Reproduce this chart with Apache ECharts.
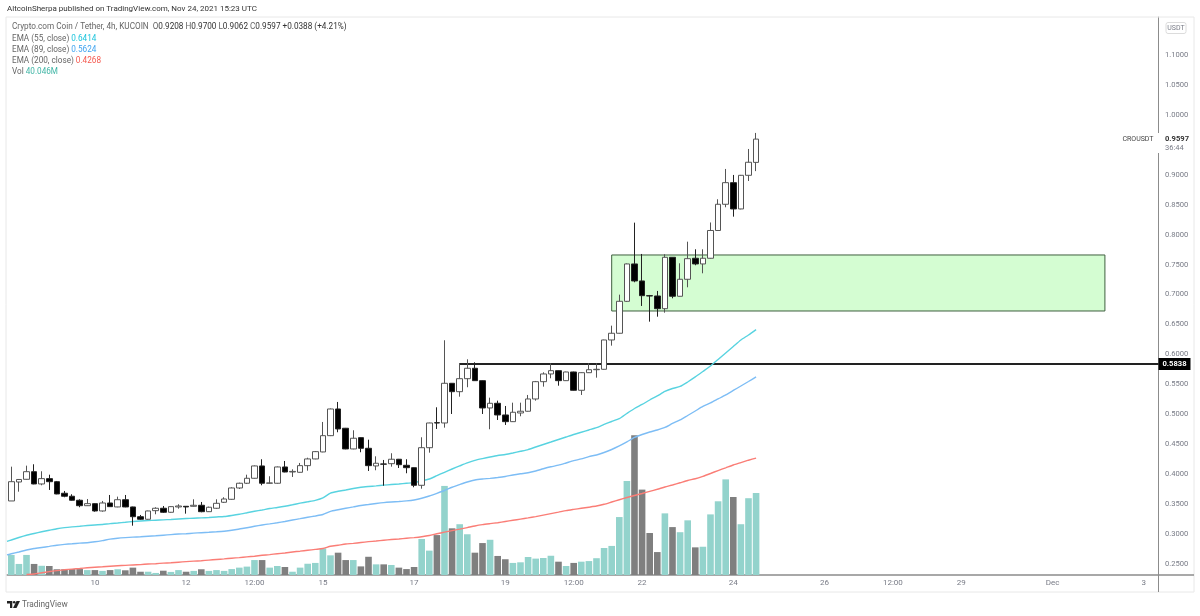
<!DOCTYPE html>
<html><head><meta charset="utf-8">
<style>html,body{margin:0;padding:0;background:#fff}#c{width:1200px;height:616px}</style>
<script src="https://cdn.jsdelivr.net/npm/echarts@6/dist/echarts.min.js"></script>
</head><body><div id="c"></div>
<script>
const opens=[.3551,.3868,.3913,.4040,.3835,.3924,.3873,.3680,.3630,.3563,.3472,.3506,.3384,.3517,.3451,.3572,.3451,.3288,.3245,.3389,.3429,.3362,.3451,.3462,.3462,.3479,.3372,.3429,.3529,.3579,.3768,.3847,.3930,.4136,.3847,.3847,.4119,.4035,.4030,.4141,.4253,.4370,.4642,.5088,.4766,.4420,.4609,.4431,.4136,.4169,.4174,.4248,.4147,.4107,.3813,.4441,.4859,.4854,.5517,.5377,.5594,.5768,.5561,.5105,.5183,.4988,.4876,.5021,.5050,.5255,.5544,.5673,.5728,.5561,.5706,.5400,.5694,.5744,.5751,.6241,.6353,.6887,.7511,.7227,.6981,.6976,.6764,.7622,.6971,.7255,.7606,.7511,.7606,.8070,.8508,.8869,.8430,.8992,.9208];
const closes=[.3873,.3910,.4040,.3835,.3924,.3873,.3668,.3630,.3563,.3472,.3506,.3384,.3517,.3456,.3572,.3451,.3288,.3245,.3384,.3429,.3362,.3456,.3467,.3451,.3479,.3372,.3446,.3512,.3584,.3768,.3847,.3930,.4136,.3847,.3852,.4119,.4035,.4045,.4141,.4253,.4375,.4642,.5088,.4754,.4420,.4599,.4431,.4141,.4181,.4166,.4248,.4157,.4107,.3813,.4441,.4854,.4854,.5517,.5377,.5594,.5768,.5561,.5105,.5183,.4988,.4876,.5033,.5050,.5255,.5544,.5673,.5728,.5561,.5706,.5400,.5694,.5744,.5751,.6241,.6353,.6887,.7511,.7227,.6981,.6976,.6764,.7622,.6971,.7255,.7599,.7511,.7606,.8070,.8508,.8869,.8430,.8992,.9210,.9597];
const lows=[.3551,.3706,.3907,.3830,.3813,.3735,.3663,.3613,.3556,.3446,.3467,.3372,.3372,.3451,.3446,.3446,.3138,.3233,.3238,.3329,.3350,.3355,.3422,.3339,.3456,.3362,.3367,.3417,.3517,.3572,.3751,.3835,.3924,.3813,.3840,.3840,.4030,.3952,.4025,.4057,.4248,.4365,.4635,.4699,.4415,.4415,.4365,.4052,.4064,.3806,.4124,.4102,.4014,.3780,.3756,.4358,.4754,.4776,.5004,.5293,.5451,.5556,.5004,.4749,.4904,.4821,.4871,.4966,.5045,.5227,.5461,.5601,.5477,.5556,.5395,.5322,.5689,.5611,.5746,.6146,.6348,.6876,.7205,.6809,.6547,.6630,.6697,.6937,.6966,.7121,.7489,.7355,.7601,.8062,.8458,.8301,.8424,.8897,.9062];
const highs=[.4124,.3918,.4141,.4164,.4047,.3990,.3885,.3718,.3663,.3579,.3584,.3512,.3551,.3651,.3623,.3651,.3456,.3317,.3389,.3446,.3467,.3462,.3496,.3462,.3579,.3534,.3456,.3579,.3613,.3779,.3857,.3990,.4144,.4248,.3964,.4127,.4219,.4080,.4186,.4274,.4386,.4871,.5096,.5205,.4771,.4732,.4614,.4575,.4297,.4236,.4348,.4253,.4248,.4112,.4615,.4859,.5116,.6236,.5522,.5856,.5918,.5868,.5566,.5277,.5227,.5138,.5193,.5193,.5322,.5556,.5701,.5852,.5733,.5711,.5711,.5701,.5852,.5852,.6246,.6480,.6998,.7519,.8201,.7678,.6993,.7060,.7673,.7627,.7522,.7883,.7756,.7756,.8204,.8592,.9098,.8998,.8998,.9432,.9700];
const volumes=[9.8,5.4,9.8,5.4,4.5,4.4,2.8,2.8,2.9,2.9,2.4,2.4,2.0,2.4,2.8,2.3,3.6,1.6,1.6,1.0,2.1,1.5,2.4,1.6,2.0,2.8,2.0,2.4,2.0,2.9,3.6,4.1,7.3,7.3,3.6,4.4,3.9,1.6,3.6,5.5,5.9,13.0,9.6,10.9,7.3,7.3,4.2,8.9,5.2,5.2,4.9,3.6,2.9,3.9,17.6,11.9,19.5,43.5,22.8,24.8,19.9,10.9,15.6,17.2,9.3,7.7,5.9,6.2,8.8,8.0,8.3,9.4,6.5,4.4,5.9,6.5,6.8,8.2,13.2,14.2,28.3,45.9,68.2,41.7,20.5,11.2,30.1,23.4,20.9,26.7,13.5,13.8,29.6,36.0,46.7,38.1,24.8,37.5,40.046];
// EMA arrays: first entry is the value at the left plot edge, then one per candle
const ema55=[.2876,.2899,.2941,.2979,.3008,.3036,.3061,.3086,.3105,.3118,.3128,.3140,.3150,.3158,.3173,.3183,.3195,.3208,.3217,.3223,.3230,.3235,.3242,.3250,.3257,.3263,.3268,.3275,.3284,.3292,.3309,.3329,.3354,.3379,.3400,.3425,.3442,.3462,.3487,.3514,.3537,.3561,.3601,.3683,.3713,.3735,.3760,.3781,.3793,.3803,.3815,.3826,.3835,.3847,.3858,.3885,.3918,.3974,.4030,.4085,.4136,.4186,.4229,.4259,.4286,.4311,.4328,.4353,.4381,.4410,.4453,.4495,.4536,.4578,.4620,.4662,.4699,.4737,.4775,.4829,.4879,.4926,.5013,.5096,.5163,.5238,.5305,.5380,.5430,.5464,.5539,.5623,.5714,.5806,.5915,.6024,.6132,.6241,.6324,.6414];
const ema89=[.2649,.2669,.2699,.2731,.2756,.2774,.2792,.2812,.2826,.2836,.2846,.2854,.2869,.2889,.2913,.2928,.2938,.2946,.2953,.2961,.2969,.2979,.2989,.2998,.3004,.3013,.3021,.3028,.3036,.3046,.3061,.3083,.3103,.3128,.3150,.3168,.3187,.3208,.3233,.3255,.3278,.3300,.3325,.3377,.3404,.3429,.3452,.3476,.3492,.3509,.3524,.3534,.3542,.3552,.3568,.3596,.3634,.3679,.3726,.3780,.3825,.3868,.3902,.3918,.3928,.3942,.3960,.3985,.4005,.4022,.4052,.4089,.4122,.4149,.4186,.4224,.4253,.4293,.4319,.4361,.4411,.4470,.4537,.4612,.4662,.4704,.4737,.4779,.4846,.4904,.4979,.5054,.5130,.5188,.5255,.5322,.5397,.5472,.5547,.5624];
const ema200=[null,null,null,.2323,.2331,.2351,.2370,.2388,.2401,.2413,.2423,.2435,.2443,.2451,.2460,.2468,.2475,.2482,.2488,.2497,.2503,.2512,.2518,.2528,.2537,.2545,.2553,.2563,.2573,.2583,.2595,.2605,.2617,.2628,.2643,.2655,.2669,.2682,.2699,.2712,.2727,.2742,.2757,.2794,.2812,.2831,.2842,.2857,.2871,.2882,.2894,.2906,.2916,.2928,.2939,.2953,.2973,.3003,.3030,.3056,.3080,.3106,.3133,.3155,.3172,.3188,.3208,.3228,.3248,.3268,.3289,.3314,.3339,.3364,.3390,.3410,.3429,.3447,.3466,.3496,.3534,.3572,.3609,.3643,.3676,.3711,.3746,.3785,.3818,.3855,.3893,.3922,.3963,.4010,.4059,.4105,.4152,.4192,.4232,.4268];
const tickIndex=[11,23,32,41,53,65,74,83,95,107,116,125,137,149];
const tickLabels=['10','12','12:00','15','17','19','12:00','22','24','26','12:00','29','Dec','3'];
const priceTicks=[.25,.3,.35,.4,.45,.5,.55,.6,.65,.7,.75,.8,.85,.9,.95,1,1.05,1.1];
const zoneBox={from:79,to:143.9,top:.7661,bottom:.6725};
const levelLine={from:59,value:.5838};
const xMin=-0.566,xMax=150.95,yMin=0.2314,yMax=1.1637,volMax=272.5;

const FONT='Roboto,sans-serif', GREY='#787b86';
const TEAL='#93d3cc', DGREY='#7f7f7f';
const up=i=>closes[i]>=opens[i];
const emaPts=a=>a.map((v,k)=>[k===0?xMin:k-1,v]);
const candles=opens.map((o,i)=>[i,o,closes[i],lows[i],highs[i]]);
const vols=volumes.map((v,i)=>({value:[i,v],itemStyle:{color:up(i)?TEAL:DGREY}}));
const txt=(x,y,t,o={})=>({type:'text',x,y,z:50,silent:true,style:{text:t,font:(o.w||'normal')+' '+(o.s||8)+'px '+FONT,fill:o.c||'#555',textVerticalAlign:'middle',textAlign:o.a||'left',rich:o.rich}});
const richOf=(c)=>({a:{fill:'#666',font:'8.2px '+FONT},b:{fill:'#333',font:'8.2px '+FONT},v:{fill:c,font:'8.2px '+FONT}});
const chart=echarts.init(document.getElementById('c'));
chart.setOption({
 animation:false,
 grid:{left:7,right:41.5,top:17,bottom:41},
 xAxis:{type:'value',min:xMin,max:xMax,splitLine:{show:false},axisTick:{show:false},
  axisLine:{onZero:false,lineStyle:{color:'#8c8c8c',width:1.5}},
  axisLabel:{customValues:tickIndex,color:GREY,fontSize:8,fontFamily:FONT,margin:4,formatter:v=>tickLabels[tickIndex.indexOf(v)]||''}},
 yAxis:[
  {type:'value',position:'right',min:yMin,max:yMax,splitLine:{show:false},axisTick:{show:false},
   axisLine:{show:true,onZero:false,lineStyle:{color:'#8c8c8c',width:1}},
   axisLabel:{customValues:priceTicks,color:GREY,fontSize:7.6,fontFamily:FONT,margin:6.5,formatter:v=>v.toFixed(4)}},
  {type:'value',min:0,max:volMax,show:false,splitLine:{show:false},axisLine:{onZero:false}}
 ],
 series:[
  {type:'bar',name:'Vol',yAxisIndex:1,data:vols,barWidth:6.6,z:2},
  {type:'line',name:'EMA200',data:emaPts(ema200),showSymbol:false,smooth:0.2,z:3,lineStyle:{color:'#fa7d76',width:1.4},
   markArea:{silent:true,z:1,itemStyle:{color:'#d4fdd2',borderColor:'#3f5f3f',borderWidth:1},
    data:[[{coord:[zoneBox.from,zoneBox.top]},{coord:[zoneBox.to,zoneBox.bottom]}]]}},
  {type:'line',name:'EMA89',data:emaPts(ema89),showSymbol:false,smooth:0.2,z:3,lineStyle:{color:'#7dbdf5',width:1.4}},
  {type:'line',name:'EMA55',data:emaPts(ema55),showSymbol:false,smooth:0.2,z:3,lineStyle:{color:'#58d3e0',width:1.4},
   markLine:{silent:true,symbol:'none',z:3,lineStyle:{color:'#222',width:2,type:'solid'},
    label:{show:true,position:'end',distance:0,formatter:p=>(+p.value).toFixed(4),color:'#fff',backgroundColor:'#000',padding:[2,4,2,4],fontSize:7.6,fontWeight:'bold',fontFamily:FONT},
    data:[[{coord:[levelLine.from,levelLine.value],value:levelLine.value},{coord:[xMax,levelLine.value]}]]}},
  {type:'candlestick',name:'CROUSDT',data:candles,barWidth:6,z:4,
   itemStyle:{color:'#fff',color0:'#000',borderColor:'#555',borderColor0:'#222',borderWidth:1}}
 ],
 graphic:{elements:[
  {type:'rect',z:40,silent:true,shape:{x:6,y:17,width:1188,height:575},style:{fill:'none',stroke:'#e8e8e8',lineWidth:1}},
  {type:'line',z:41,silent:true,shape:{x1:1158.5,y1:575,x2:1158.5,y2:592},style:{stroke:'#8c8c8c',lineWidth:1}},
  {type:'line',z:41,silent:true,shape:{x1:1158.5,y1:575,x2:1194,y2:575},style:{stroke:'#8c8c8c',lineWidth:1.5}},
  {type:'rect',z:42,silent:true,shape:{x:1120,y:133,width:72,height:20},style:{fill:'#fff'}},
  txt(7,9,'AltcoinSherpa published on TradingView.com, Nov 24, 2021 15:23 UTC',{s:8,c:'#333'}),
  txt(12,27,'{a|Crypto.com Coin / Tether, 4h, KUCOIN}  {a|O}{b|0.9208} {a|H}{b|0.9700} {a|L}{b|0.9062} {a|C}{b|0.9597} {b|+0.0388 (+4.21%)}',{rich:richOf('#333')}),
  txt(12,38.5,'{a|EMA (55, close)} {v|0.6414}',{rich:richOf('#1cc4dc')}),
  txt(12,49.5,'{a|EMA (89, close)} {v|0.5624}',{rich:richOf('#3fa4f0')}),
  txt(12,60.5,'{a|EMA (200, close)} {v|0.4268}',{rich:richOf('#f55a50')}),
  txt(12,71.5,'{a|Vol} {v|40.046M}',{rich:richOf('#3fb5a5')}),
  {type:'rect',z:42,silent:true,shape:{x:1166,y:22.5,width:20,height:11,r:2},style:{fill:'#fff',stroke:'#dcdcdc',lineWidth:1}},
  txt(1176,28,'USDT',{s:7,a:'center',c:GREY}),
  txt(1153.5,139,'CROUSDT',{s:7,a:'right',c:'#444'}),
  txt(1165,139,'0.9597',{s:7.6,w:'bold',c:'#333'}),
  txt(1165,148,'36:44',{s:7.5,c:GREY}),
  {type:'polygon',z:50,silent:true,shape:{points:[[7,601],[12.3,601],[12.3,608],[10,608],[10,603.6],[7,603.6]]},style:{fill:'#222'}},
  {type:'circle',z:50,silent:true,shape:{cx:14.2,cy:602.3,r:1.3},style:{fill:'#222'}},
  {type:'polygon',z:50,silent:true,shape:{points:[[16.5,601],[20,601],[16.5,608],[13,608]]},style:{fill:'#222'}},
  txt(22,604.5,'TradingView',{s:8.3,c:'#666'})
 ]}
});
</script></body></html>
